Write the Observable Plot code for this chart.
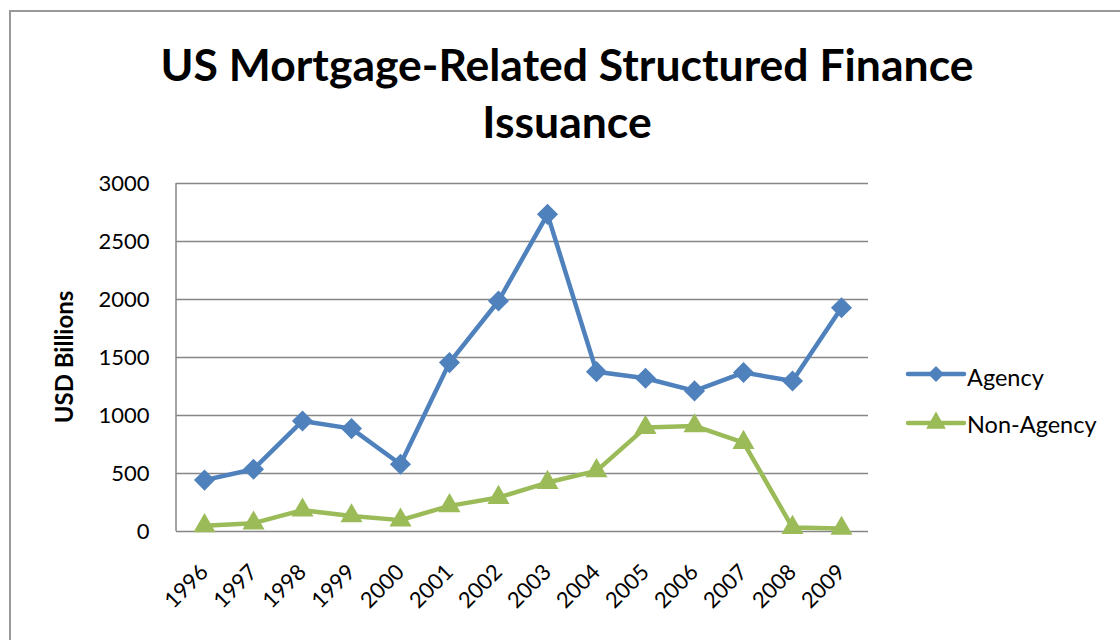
<!DOCTYPE html>
<html>
<head>
<meta charset="utf-8">
<script src="https://cdn.jsdelivr.net/npm/d3@7"></script>
<script src="https://cdn.jsdelivr.net/npm/@observablehq/plot@0.6"></script>
<style>
  html, body { margin: 0; padding: 0; background: #fff; overflow: hidden; }
  #root { position: relative; width: 1120px; height: 640px; overflow: hidden; font-family: Lato, "Open Sans", sans-serif; }
  #frame { position: absolute; left: 9px; top: 10px; width: 1300px; height: 800px; border-left: 2px solid #999; border-top: 2px solid #999; }
  #title { position: absolute; left: 0; top: 35px; width: 1134px; text-align: center; font: bold 44.5px/57px Lato, sans-serif; color: #000; }
  #ylabel { position: absolute; left: 63px; top: 357px; transform: translate(-50%, -50%) rotate(-90deg); font: bold 24px Lato, sans-serif; white-space: nowrap; color: #000; }
  #chart { position: absolute; left: 0; top: 0; }
  #legend { position: absolute; left: 0; top: 0; pointer-events: none; }
</style>
</head>
<body>
<div id="root">
  <div id="frame"></div>
  <div id="title">US Mortgage-Related Structured Finance<br>Issuance</div>
  <div id="ylabel">USD Billions</div>
  <div id="chart"></div>
  <svg id="legend" width="1120" height="640"></svg>
</div>
<script>
const years = ["1996","1997","1998","1999","2000","2001","2002","2003","2004","2005","2006","2007","2008","2009"];
const agency = [443, 537, 953, 887, 580, 1456, 1987, 2734, 1378, 1321, 1212, 1370, 1298, 1929];
const nonAgency = [49, 72, 184, 134, 98, 221, 293, 422, 523, 896, 910, 767, 34, 26];
const seriesNames = ["Agency", "Non-Agency"];
const seriesColors = ["#4F81BD", "#9BBB59"];
const yTicks = [0, 500, 1000, 1500, 2000, 2500, 3000];

const table = [
  ...years.map((year, i) => ({year, value: agency[i], series: "Agency"})),
  ...years.map((year, i) => ({year, value: nonAgency[i], series: "Non-Agency"}))
];

const M = {top: 183, right: 252, bottom: 109, left: 176};

const axisLine = (index, scales, values, dimensions) => {
  const ns = "http://www.w3.org/2000/svg";
  const l = document.createElementNS(ns, "line");
  const d = dimensions || {marginLeft: M.left, marginTop: M.top, height: 640, marginBottom: M.bottom};
  l.setAttribute("x1", d.marginLeft);
  l.setAttribute("x2", d.marginLeft);
  l.setAttribute("y1", d.marginTop);
  l.setAttribute("y2", d.height - d.marginBottom);
  l.setAttribute("stroke", "#868686");
  l.setAttribute("stroke-width", 1.5);
  return l;
};

const plot = Plot.plot({
  width: 1120,
  height: 640,
  marginTop: M.top,
  marginRight: M.right,
  marginBottom: M.bottom,
  marginLeft: M.left,
  style: {fontFamily: "Lato, sans-serif", color: "#000", background: "transparent", overflow: "visible"},
  x: {type: "point", domain: years, padding: 0.5},
  y: {domain: [0, 3000]},
  color: {domain: seriesNames, range: seriesColors},
  marks: [
    Plot.ruleY(yTicks, {stroke: "#868686", strokeWidth: 1.5, strokeOpacity: 1}),
    axisLine,
    Plot.axisY({ticks: yTicks, tickSize: 0, tickPadding: 27, fontSize: 22, label: null, tickFormat: d => String(d)}),
    Plot.axisX({tickSize: 0, tickRotate: -45, tickPadding: 37, fontSize: 22, label: null}),
    Plot.line(table, {x: "year", y: "value", z: "series", stroke: "series", strokeWidth: 4.5, strokeLinejoin: "round", strokeLinecap: "round"}),
    Plot.dot(table.filter(d => d.series === "Agency"), {x: "year", y: "value", symbol: "diamond2", r: 9.5, fill: seriesColors[0], stroke: "none"}),
    Plot.dot(table.filter(d => d.series === "Non-Agency"), {x: "year", y: "value", symbol: "triangle", r: 8.2, fill: seriesColors[1], stroke: "none"})
  ]
});
document.getElementById("chart").appendChild(plot);

// Legend
const lg = d3.select("#legend");
const legendRows = [
  {name: seriesNames[0], color: seriesColors[0], y: 374, symbol: d3.symbolDiamond2, size: 160, textY: 386},
  {name: seriesNames[1], color: seriesColors[1], y: 423, symbol: d3.symbolTriangle, size: 170, textY: 433}
];
for (const r of legendRows) {
  lg.append("line").attr("x1", 908).attr("x2", 964).attr("y1", r.y).attr("y2", r.y)
    .attr("stroke", r.color).attr("stroke-width", 4.5).attr("stroke-linecap", "round");
  lg.append("path").attr("d", d3.symbol(r.symbol, r.size)()).attr("transform", `translate(936,${r.y})`).attr("fill", r.color);
  lg.append("text").attr("x", 967).attr("y", r.textY).attr("font-family", "Lato, sans-serif").attr("font-size", 23.5).attr("fill", "#000").text(r.name);
}
</script>
</body>
</html>
